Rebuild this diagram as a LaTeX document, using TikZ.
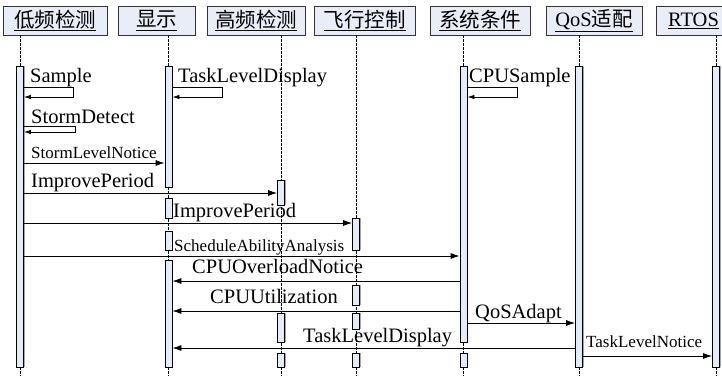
\documentclass[tikz,border=0pt]{standalone}
\usepackage{fontspec}
\setmainfont{Liberation Serif}
\newfontfamily\cjk{Noto Sans CJK SC}
\usetikzlibrary{arrows.meta,shadows}
\definecolor{headfill}{RGB}{232,237,247}
\definecolor{barfill}{RGB}{230,236,247}
\begin{document}
\begin{tikzpicture}[x=1pt,y=-1pt,
  head/.style={draw=black!80, line width=0.9pt, fill=headfill, minimum height=29,
    inner sep=0, font=\fontsize{20.5}{24}\selectfont},
  life/.style={draw=black, line width=0.9pt, dash pattern=on 2.5pt off 1.5pt},
  actbar/.style={draw=black, line width=0.8pt, fill=barfill, anchor=north,
    minimum width=7, inner sep=0,
    drop shadow={shadow xshift=1.3pt, shadow yshift=0pt, opacity=0.7, fill=gray}},
  msg/.style={draw=black, line width=0.8pt, -{Latex[length=9pt,width=6pt]}},
  selfmsg/.style={draw=black, line width=0.8pt, -{Latex[length=7pt,width=4.5pt]}},
  lbl/.style={anchor=base west, inner sep=0, font=\fontsize{20.5}{24}\selectfont},
  slbl/.style={anchor=base west, inner sep=0, font=\fontsize{17}{20}\selectfont},
]
\useasboundingbox (0,0) rectangle (722,376);
\clip (0,0) rectangle (722,376);

% participant heads
\node[head, minimum width=104] (h1) at (55,20.5)    {\underline{\cjk 低频检测}};
\node[head, minimum width=77]  (h2) at (156.5,20.5) {\underline{\cjk 显示}};
\node[head, minimum width=98]  (h3) at (256,20.5)   {\underline{\cjk 高频检测}};
\node[head, minimum width=101] (h4) at (364.5,20.5) {\underline{\cjk 飞行控制}};
\node[head, minimum width=100] (h5) at (480,20.5)   {\underline{\cjk 系统条件}};
\node[head, minimum width=96]  (h6) at (594,20.5)   {\underline{QoS{\cjk 适配}}};
\node[head, minimum width=75]  (h7) at (693.5,20.5) {\underline{RTOS}};

% lifelines
\coordinate (e1) at (20,376);
\coordinate (e2) at (168.5,376);
\coordinate (e3) at (281,376);
\coordinate (e4) at (356,376);
\coordinate (e5) at (463.5,376);
\coordinate (e6) at (579,376);
\coordinate (e7) at (716,376);
\foreach \i in {1,...,7} \draw[life] (e\i |- h\i.south) -- (e\i);

% activation bars
\node[actbar, minimum height=301] (a1)  at (20,66) {};
\node[actbar, minimum height=121] (a2a) at (168.5,66) {};
\node[actbar, minimum height=20]  (a2b) at (168.5,198) {};
\node[actbar, minimum height=19]  (a2c) at (168.5,231) {};
\node[actbar, minimum height=107] (a2d) at (168.5,260) {};
\node[actbar, minimum height=25]  (a3a) at (281,180) {};
\node[actbar, minimum height=29]  (a3b) at (281,313) {};
\node[actbar, minimum height=14]  (a3c) at (281,353) {};
\node[actbar, minimum height=32]  (a4a) at (356,218) {};
\node[actbar, minimum height=20]  (a4b) at (356,285) {};
\node[actbar, minimum height=16]  (a4c) at (356,313) {};
\node[actbar, minimum height=14]  (a4d) at (356,353) {};
\node[actbar, minimum height=276] (a5a) at (463.5,66) {};
\node[actbar, minimum height=14]  (a5b) at (463.5,353) {};
\node[actbar, minimum height=301] (a6)  at (579,66) {};
\node[actbar, minimum height=301] (a7)  at (716,66) {};

% self messages
\draw[selfmsg] (a1.east |- 0,87) -| (73,97) -- (a1.east |- 0,97);
\draw[selfmsg] (a2a.east |- 0,87) -| (222,97) -- (a2a.east |- 0,97);
\draw[selfmsg] (a5a.east |- 0,87) -| (517,97) -- (a5a.east |- 0,97);
\draw[selfmsg] (a1.east |- 0,126) -| (75,132) -- (a1.east |- 0,132);

% messages between participants
\draw[msg] (a1.east |- 0,163) -- (a2a.west |- 0,163);
\draw[msg] (a1.east |- 0,193) -- (a3a.west |- 0,193);
\draw[msg] (a1.east |- 0,223) -- (a4a.west |- 0,223);
\draw[msg] (a1.east |- 0,256) -- (a5a.west |- 0,256);
\draw[msg] (a5a.west |- 0,281) -- (a2d.east |- 0,281);
\draw[msg] (a5a.west |- 0,311) -- (a2d.east |- 0,311);
\draw[msg] (a5a.east |- 0,323) -- (a6.west |- 0,323);
\draw[msg] (a6.west |- 0,348) -- (a2d.east |- 0,348);
\draw[msg] (a6.east |- 0,356) -- (a7.west |- 0,356);

% message labels
\node[lbl]  (t1)  at (30,82)   {Sample};
\node[lbl]  (t2)  at (178,82)  {TaskLevelDisplay};
\node[lbl]  (t3)  at (469,82)  {CPUSample};
\node[lbl]  (t4)  at (31,123)  {StormDetect};
\node[slbl] (t5)  at (31,158)  {StormLevelNotice};
\node[lbl]  (t6)  at (31,187)  {ImprovePeriod};
\node[lbl]  (t7)  at (173,217) {ImprovePeriod};
\node[slbl] (t8)  at (174,251) {ScheduleAbilityAnalysis};
\node[lbl]  (t9)  at (192,273) {CPUOverloadNotice};
\node[lbl]  (t10) at (210,303) {CPUUtilization};
\node[lbl]  (t11) at (475,318) {QoSAdapt};
\node[lbl]  (t12) at (303,342) {TaskLevelDisplay};
\node[slbl] (t13) at (586,347) {TaskLevelNotice};
\end{tikzpicture}
\end{document}
